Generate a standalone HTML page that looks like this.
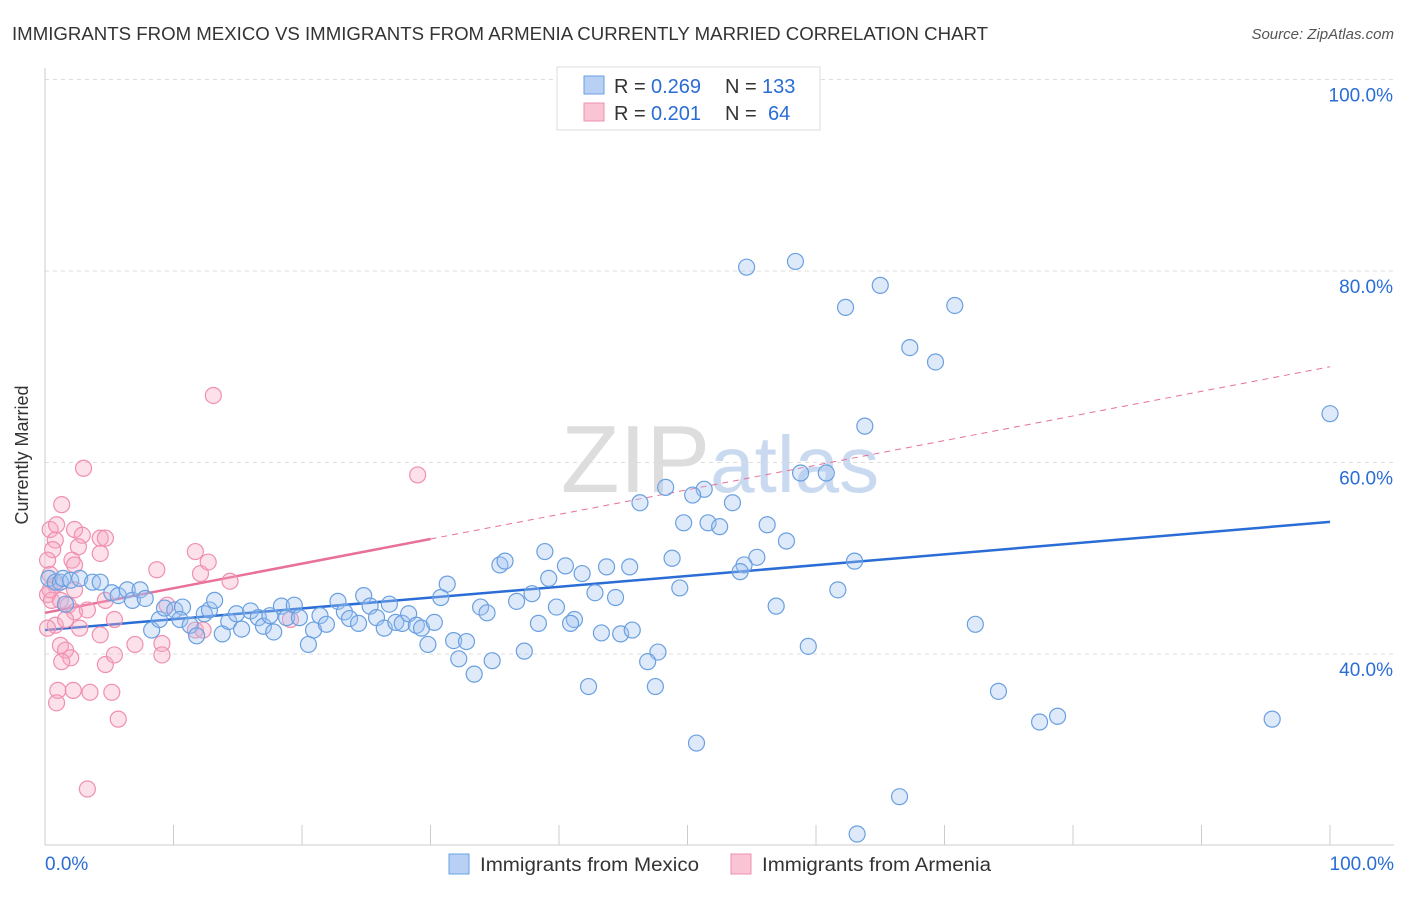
<!DOCTYPE html>
<html><head><meta charset="utf-8"><style>
body{margin:0;background:#fff;font-family:"Liberation Sans",sans-serif;}
svg text{font-family:"Liberation Sans",sans-serif;}
</style></head><body>
<svg id="chart" width="1406" height="892" xmlns="http://www.w3.org/2000/svg">
<text x="12" y="40" font-size="18" fill="#333" textLength="976" lengthAdjust="spacingAndGlyphs">IMMIGRANTS FROM MEXICO VS IMMIGRANTS FROM ARMENIA CURRENTLY MARRIED CORRELATION CHART</text>
<text x="1394" y="39" font-size="15" fill="#555" text-anchor="end" font-style="italic">Source: ZipAtlas.com</text>
<text x="720" y="492" font-size="96" fill="#ddd" text-anchor="middle" font-family="Liberation Serif">ZIP<tspan fill="#c9daf0" font-family="Liberation Sans" font-size="80">atlas</tspan></text>
<g id="grid"></g>
<g id="axes"></g>
<g id="lines"></g>
<g id="pts"></g>
<text x="28" y="455" font-size="18" fill="#333" transform="rotate(-90 28 455)" text-anchor="middle">Currently Married</text>
<g>
<rect x="557" y="67" width="263" height="63" fill="#fff" stroke="#ddd"/>
<rect x="584" y="76" width="20" height="18" fill="#b8d0f4" stroke="#6aa0e0"/>
<rect x="584" y="103" width="20" height="18" fill="#f9c4d3" stroke="#f08fb0"/>
<text x="614" y="93" font-size="20" fill="#333">R =</text>
<text x="651" y="93" font-size="20" fill="#2a6dd6">0.269</text>
<text x="725" y="93" font-size="20" fill="#333">N =</text>
<text x="762" y="93" font-size="20" fill="#2a6dd6">133</text>
<text x="614" y="120" font-size="20" fill="#333">R =</text>
<text x="651" y="120" font-size="20" fill="#2a6dd6">0.201</text>
<text x="725" y="120" font-size="20" fill="#333">N =</text>
<text x="768" y="120" font-size="20" fill="#2a6dd6">64</text>
</g>
<g>
<rect x="449" y="854" width="20" height="20" fill="#b8d0f4" stroke="#6aa0e0"/>
<text x="480" y="871" font-size="19" fill="#333" textLength="219" lengthAdjust="spacingAndGlyphs">Immigrants from Mexico</text>
<rect x="731" y="854" width="20" height="20" fill="#f9c4d3" stroke="#f08fb0"/>
<text x="762" y="871" font-size="19" fill="#333" textLength="229" lengthAdjust="spacingAndGlyphs">Immigrants from Armenia</text>
</g>
</svg>
<script>
const yTicks=[40,60,80,100];
const yTickLabels=["40.0%","60.0%","80.0%","100.0%"];
const xTicks=[0,10,20,30,40,50,60,70,80,90,100];
const mexicoX=[54.6,58.4,65.0,62.3,70.8,67.3,69.3,100,63.8,58.8,60.8,48.3,51.3,50.4,53.5,46.3,49.7,51.6,52.5,56.2,57.7,38.9,48.8,55.4,54.4,54.1,63.0,35.4,35.8,40.5,43.7,45.5,41.8,39.2,31.3,49.4,42.8,44.4,61.7,30.8,37.9,36.7,33.9,34.4,39.8,56.9,38.4,41.2,40.9,43.3,44.8,45.7,31.8,32.8,37.3,32.2,34.8,33.4,47.7,46.9,59.4,72.4,42.3,47.5,74.2,77.4,78.8,95.5,50.7,66.5,63.2,0.3,0.8,1.2,1.4,2.0,2.7,3.7,4.3,5.2,5.7,6.4,6.8,7.4,7.8,8.3,8.9,9.3,10.1,10.7,10.5,11.3,11.8,12.4,12.8,13.2,13.8,14.3,14.9,15.3,16.0,16.6,17.0,17.5,17.8,18.4,18.8,19.4,19.8,20.5,20.9,21.4,21.9,22.8,23.3,23.7,24.4,24.8,25.3,25.8,26.4,26.8,27.3,27.8,28.3,28.9,29.3,29.8,30.3,1.6];
const mexicoY=[80.4,81.0,78.5,76.2,76.4,72.0,70.5,65.1,63.8,58.9,58.9,57.4,57.2,56.6,55.8,55.8,53.7,53.7,53.3,53.5,51.8,50.7,50.0,50.1,49.3,48.6,49.7,49.3,49.7,49.2,49.1,49.1,48.4,47.9,47.3,46.9,46.4,45.9,46.7,45.9,46.3,45.5,44.9,44.3,44.9,45.0,43.2,43.6,43.2,42.2,42.1,42.5,41.4,41.3,40.3,39.5,39.3,37.9,40.2,39.2,40.8,43.1,36.6,36.6,36.1,32.9,33.5,33.2,30.7,25.1,21.2,47.9,47.5,47.5,47.9,47.7,47.9,47.5,47.5,46.4,46.1,46.7,45.6,46.7,45.8,42.5,43.6,44.8,44.6,44.9,43.6,43.0,41.9,44.2,44.6,45.6,42.1,43.4,44.2,42.6,44.5,43.8,42.9,44.0,42.3,45.0,43.8,45.1,43.8,41.0,42.5,44.0,43.1,45.5,44.4,43.7,43.2,46.1,45.0,43.8,42.7,45.2,43.3,43.2,44.2,43.0,42.7,41.0,43.3,45.2];
const armeniaX=[0.4,0.9,1.3,3.0,13.1,29.0,0.8,0.6,2.3,2.9,4.3,4.7,2.6,4.3,2.1,2.3,0.2,0.4,0.8,0.2,0.5,1.2,1.8,2.3,3.3,4.7,5.4,2.7,0.8,0.2,1.6,4.3,1.2,1.6,2.0,1.3,4.7,1.0,2.2,3.5,5.2,0.9,5.7,3.3,8.7,11.7,12.1,12.7,14.4,9.5,11.7,9.1,9.1,7.0,5.4,12.3,19.1,2.3,0.4];
const armeniaY=[53.0,53.5,55.6,59.4,67.0,58.7,51.9,50.9,53.0,52.4,52.1,52.1,51.2,50.5,49.8,49.3,49.8,48.3,47.2,46.2,45.6,45.6,45.1,44.4,44.6,45.6,43.6,42.7,43.0,42.7,43.6,42.0,40.9,40.4,39.6,39.2,38.9,36.2,36.2,36.0,36.0,34.9,33.2,25.9,48.8,50.7,48.4,49.6,47.6,45.1,42.5,41.1,39.9,41.0,39.9,42.5,43.6,46.7,46.7];
const mexicoTrend=[42.5,53.8];
const armeniaTrend=[44.3,70.0];
const NS="http://www.w3.org/2000/svg";
const X0=45,X1=1330,Y0=1037,YS=9.575;
const sx=v=>X0+(X1-X0)*v/100, sy=v=>Y0-v*YS;
function mk(tag,attrs,parent){const e=document.createElementNS(NS,tag);for(const k in attrs)e.setAttribute(k,attrs[k]);document.getElementById(parent).appendChild(e);return e;}
yTicks.forEach((t,i)=>{
 const g=mk('line',{x1:45,x2:1394,y1:sy(t),y2:sy(t),stroke:'#ddd','stroke-dasharray':'4,4'},'grid');
 
 
 const l=mk('text',{x:1393,y:sy(t)+22,'font-size':19,fill:'#2a6dd6','text-anchor':'end'},'grid');
 l.textContent=yTickLabels[i];
 
 
});
const ax=mk('line',{x1:45,x2:1394,y1:845,y2:845,stroke:'#ccc'},'axes');


const ay=mk('line',{x1:45,x2:45,y1:68,y2:845,stroke:'#ccc'},'axes');


xTicks.forEach(t=>{
 const e=mk('line',{x1:sx(t),x2:sx(t),y1:825,y2:845,stroke:'#ccc'},'axes');
 
 
});
const xl0=mk('text',{x:45,y:870,'font-size':19,fill:'#2a6dd6'},'axes');xl0.textContent='0.0%';


const xl1=mk('text',{x:1394,y:870,'font-size':19,fill:'#2a6dd6','text-anchor':'end'},'axes');xl1.textContent='100.0%';


function dots(xs,ys,fill,stroke,name){xs.forEach((x,i)=>{
 const c=mk('circle',{cx:sx(x),cy:sy(ys[i]),r:8,fill:fill,stroke:stroke,'stroke-width':1.2},'pts');
 
 
});}
dots(armeniaX,armeniaY,'rgba(246,170,195,0.35)','#f08fb0','armenia-point');
dots(mexicoX,mexicoY,'rgba(160,195,240,0.35)','#6aa0e0','mexico-point');
const at=v=>armeniaTrend[0]+(armeniaTrend[1]-armeniaTrend[0])*v/100;
const pd=mk('line',{x1:sx(30),y1:sy(at(30)),x2:sx(100),y2:sy(at(100)),stroke:'#e8709a','stroke-width':1,'stroke-dasharray':'6,5'},'lines');


const ps=mk('line',{x1:sx(0),y1:sy(at(0)),x2:sx(30),y2:sy(at(30)),stroke:'#e8709a','stroke-width':2.5},'lines');


const bl=mk('line',{x1:sx(0),y1:sy(mexicoTrend[0]),x2:sx(100),y2:sy(mexicoTrend[1]),stroke:'#2a6dd6','stroke-width':2.5},'lines');


</script>
</body></html>
